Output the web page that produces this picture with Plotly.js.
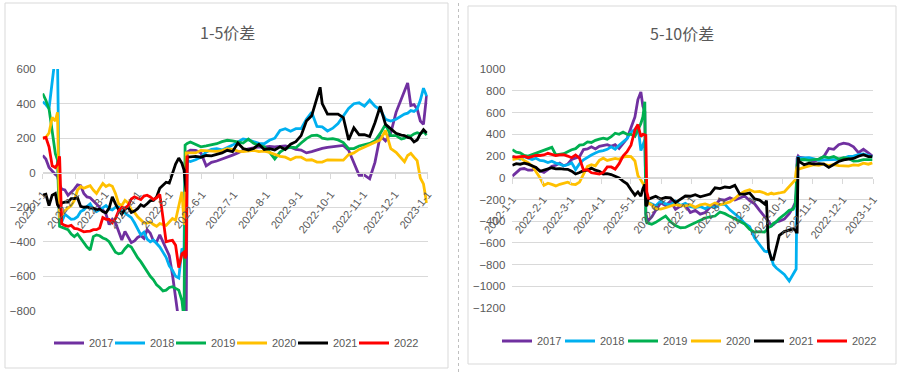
<!DOCTYPE html>
<html><head><meta charset="utf-8">
<script src="https://cdn.plot.ly/plotly-3.0.1.min.js"></script>
<style>html,body{margin:0;padding:0;background:#fff}#chart{width:902px;height:372px}</style>
</head><body><div id="chart"></div>
<script>
const years = ['2017','2018','2019','2020','2021','2022'];
const colors = ['#7030A0','#00B0F0','#00B050','#FFC000','#000000','#FF0000'];
const tickDates = ['2022-01-01','2022-02-01','2022-03-01','2022-04-01','2022-05-01','2022-06-01','2022-07-01','2022-08-01','2022-09-01','2022-10-01','2022-11-01','2022-12-01','2023-01-01'];
const tickLabels = ['2022-1-1','2022-2-1','2022-3-1','2022-4-1','2022-5-1','2022-6-1','2022-7-1','2022-8-1','2022-9-1','2022-10-1','2022-11-1','2022-12-1','2023-1-1'];

// 1-5 spread: day offsets from 2022-01-01
const leftDays = [0,3,6,9,12,14,16,18,21,24, 27,30,33,36,39,42,45,48,51,54, 57,60,63,66,69,72,75,78,81,84, 87,90,93,96,99,102,105,108,111,114, 117,120,123,126,129,132,134,135,136,137, 140,145,150,155,160,165,170,175,180,185, 190,195,200,205,210,215,220,225,230,235, 240,245,250,255,260,263,265,270,275,280, 285,290,295,300,305,310,315,320,325,330, 335,340,343,346,349,352,355,358,361,364];
const left2017 = [100,80,30,8,-10,-20,-70,-95,-100,-130, -115,-95,-70,-75,-120,-140,-145,-165,-180,-200, -215,-240,-300,-270,-290,-340,-390,-340,-370,-405, -395,-375,-365,-380,-330,-350,-395,-400,-360,-400, -440,-480,-590,-740,-860,-900,-900,-900,-900,120, 131,130,115,40,60,68,78,88,102,115, 130,138,142,150,148,152,150,152,155,148, 135,131,115,122,132,138,141,147,152,157, 158,130,55,-15,-14,-35,60,215,185,230, 350,430,470,520,390,395,370,300,280,450];
const left2018 = [411,395,372,560,680,680,-270,-285,-240,-255, -270,-268,-255,-225,-215,-195,-180,-210,-225,-215, -200,-190,-210,-215,-200,-197,-220,-235,-245,-260, -290,-330,-360,-345,-385,-400,-390,-410,-430,-460, -490,-540,-565,-600,-610,-440,-450,60,65,70, 65,75,90,120,135,140,132,145,160,178, 195,190,178,170,168,188,200,245,255,240, 255,255,310,350,268,266,266,242,258,285, 326,372,400,405,385,420,385,365,310,300, 310,330,340,345,360,355,370,420,490,445];
const left2019 = [459,420,370,250,110,75,-310,-315,-322,-330, -355,-370,-355,-380,-410,-430,-448,-370,-360,-365, -378,-385,-400,-430,-460,-470,-465,-440,-420,-430, -465,-492,-515,-545,-575,-600,-620,-650,-665,-685, -680,-665,-660,-672,-680,-740,-850,160,165,170, 178,165,150,155,160,168,180,188,185,178, 172,195,170,158,150,120,80,120,140,148, 145,172,198,215,218,210,200,195,198,190, 175,140,140,155,162,170,185,228,280,215, 215,195,200,215,212,225,232,225,238,218];
const left2020 = [199,205,230,320,300,350,-255,-250,-220,-205, -190,-160,-100,-80,-90,-82,-75,-100,-120,-90, -62,-80,-70,-78,-120,-180,-190,-160,-175,-215, -230,-255,-270,-290,-292,-285,-300,-310,-295,-300, -305,-285,-265,-275,-200,-110,-290,-300,115,115, 112,115,130,128,122,124,128,140,135,125, 122,125,130,122,125,118,105,95,90,75, 90,90,73,75,62,62,62,75,73,73, 73,105,115,135,148,165,178,190,245,140, 118,80,64,100,112,90,70,-30,-65,-175];
const left2021 = [-130,-125,-190,-130,-120,-185,-205,-175,-170,-170, -150,-150,-145,-195,-200,-198,-205,-205,-215,-210, -225,-232,-205,-140,-180,-215,-240,-210,-200,-230, -222,-208,-185,-195,-180,-162,-160,-140,-90,-71, -55,-60,0,50,85,55,15,-40,-110,90, 93,95,90,100,98,108,115,130,122,172, 140,132,140,165,135,140,132,150,135,165, 180,215,300,330,440,495,400,340,340,340, 320,190,260,220,220,210,290,385,280,255, 228,218,215,205,200,178,190,225,250,230];
const left2022 = [200,205,150,40,30,50,95,-295,-305,-310, -305,-322,-325,-335,-342,-340,-338,-330,-330,-320, -260,-270,-270,-290,-265,-220,-200,-205,-190,-152, -140,-148,-155,-135,-130,-140,-155,-145,-125,-260, -400,-395,-392,-420,-550,-470,-460,-495,-480,100];

// 5-10 spread
const rightDays = [0,4,8,12,16,20,24,28,32,36, 40,44,48,52,56,60,64,68,72,76, 80,84,88,92,96,100,104,108,112,116, 120,124,127,130,132,134,135,136,137,138, 141,145,150,155,160,165,170,175,180,185, 190,195,200,205,210,215,220,225,230,235, 240,245,250,255,257,259,262,264,267,270, 275,280,284,286,287,288,289,290,295,300, 305,310,315,320,325,330,335,340,345,350, 355,360,364];
const right2017 = [15,45,80,85,70,70,88,65,50,75, 105,115,135,110,125,168,180,195,260,265, 285,265,290,295,305,290,305,270,310,360, 460,560,720,790,660,610,-330,-380,-400,-390, -360,-300,-230,-255,-215,-290,-260,-250,-320,-300, -335,-320,-270,-255,-200,-205,-185,-205,-185,-168, -210,-240,-300,-350,-380,-400,-440,-430,-405,-400, -380,-330,-270,-230,-150,180,200,190,180,165, 150,170,195,270,262,305,318,310,285,232, 262,230,200];
const right2018 = [198,185,172,195,185,168,180,160,155,140, 153,135,125,110,120,137,76,130,165,190, 210,229,244,250,262,285,262,300,330,360, 420,445,480,250,300,350,-210,-225,-225,-230, -240,-258,-215,-240,-250,-215,-255,-235,-265,-275, -265,-285,-260,-275,-245,-245,-295,-330,-370,-420, -450,-555,-610,-675,-680,-671,-740,-800,-830,-850, -890,-950,-880,-850,-840,100,195,180,183,185, 175,160,165,165,170,170,180,198,200,214, 220,205,192];
const right2019 = [259,235,229,205,200,214,225,238,255,270, 280,210,215,222,240,258,268,300,305,330, 325,345,355,365,355,378,410,400,420,400, 400,382,440,500,560,700,-380,-412,-415,-420, -427,-410,-380,-352,-405,-440,-460,-457,-435,-412, -390,-370,-360,-352,-315,-330,-355,-380,-405,-425, -475,-500,-495,-500,-480,-457,-445,-420,-405,-375, -340,-300,-290,-250,-100,120,168,165,168,160, 168,172,195,183,195,172,185,178,153,155, 168,165,168];
const right2020 = [168,172,183,158,140,110,60,0,-70,-50, -61,-75,-60,-50,-40,-58,-62,-40,40,105, 120,110,160,180,160,168,178,170,190,198, 195,155,20,-20,-50,-80,-150,-200,-225,-235, -250,-285,-288,-276,-260,-246,-255,-258,-248,-272, -250,-240,-255,-232,-248,-238,-222,-190,-150,-125, -110,-130,-125,-140,-150,-152,-140,-150,-148,-140, -130,-80,-50,-20,60,100,85,80,95,110, 120,115,128,113,120,112,110,107,118,115, 135,125,137];
const right2021 = [115,130,125,135,125,112,95,60,70,85, 92,82,85,80,78,61,35,48,65,70, 90,70,60,35,38,30,15,-2,-30,-55, -110,-160,-130,-170,-100,-60,-250,-260,-200,-198, -185,-170,-195,-180,-185,-228,-200,-168,-170,-155, -175,-160,-150,-92,-100,-85,-90,-70,-150,-150, -140,-195,-205,-240,-210,-650,-750,-750,-650,-530, -495,-480,-470,-480,-500,-500,190,150,120,135, 125,130,125,95,125,150,165,172,178,198, 212,195,195];
const right2022 = [195,190,195,198,185,198,205,205,210,225, 214,205,210,212,200,185,210,180,70,75, 46,40,35,50,100,100,80,130,200,240, 300,440,490,380,400,395,390,-130,-160,-200];

const leftSeries = [left2017,left2018,left2019,left2020,left2021,left2022];
const rightSeries = [right2017,right2018,right2019,right2020,right2021,right2022];

function toDate(d){ return new Date(Date.UTC(2022,0,1) + d*86400000).toISOString().slice(0,10); }

const W = 902, H = 372;
const px = v => v / W, py = v => 1 - v / H;
const GRAY = '#595959';
const NUMFONT = '"Liberation Sans", Arial, sans-serif';

const traces = [];
leftSeries.forEach((vals, i) => {
  traces.push({type:'scatter', mode:'lines', name:years[i], x: leftDays.slice(0, vals.length).map(toDate), y: vals,
    xaxis:'x', yaxis:'y', legend:'legend', line:{color:colors[i], width:2.8}, hoverinfo:'skip'});
});
rightSeries.forEach((vals, i) => {
  traces.push({type:'scatter', mode:'lines', name:years[i], x: rightDays.slice(0, vals.length).map(toDate), y: vals,
    xaxis:'x2', yaxis:'y2', legend:'legend2', line:{color:colors[i], width:2.8}, hoverinfo:'skip'});
});
// blank spacer entries (no visible mark) so the last legend label is not clipped
['legend','legend2'].forEach((lg, k) => {
  traces.push({type:'scatter', mode:'lines', name:'\u00a0', x:[tickDates[0]], y:[null], xaxis: k ? 'x2' : 'x', yaxis: k ? 'y2' : 'y',
    legend:lg, showlegend:true, line:{color:'rgba(0,0,0,0)', width:0}, hoverinfo:'skip'});
});

const lyDom = [py(311), py(69)], ryDom = [py(308.3), py(69)];
const xCommon = {type:'date', range:['2022-01-01','2023-01-01'], tickvals: tickDates, ticktext: tickLabels,
  tickangle:-52, tickfont:{family:NUMFONT, size:11, color:GRAY}, showgrid:false, zeroline:false,
  showline:true, linecolor:'#d9d9d9', linewidth:1, ticks:'outside', ticklen:5, tickcolor:'#d9d9d9', anchor:'free',
  automargin:false, ticklabelstandoff:5};
const yCommon = {dtick:200, tick0:0, showgrid:true, gridcolor:'#d9d9d9', gridwidth:1, zeroline:false, showline:false,
  ticks:'', tickfont:{family:NUMFONT, size:11.5, color:GRAY}, ticklabelstandoff:6, automargin:false};

const legCommon = {orientation:'h', xanchor:'left', yanchor:'middle', font:{family:NUMFONT, size:11, color:GRAY},
  entrywidthmode:'pixels', bgcolor:'rgba(0,0,0,0)', traceorder:'normal'};

const layout = {
  width:W, height:H, margin:{l:0,r:0,t:0,b:0, autoexpand:false}, paper_bgcolor:'#fff', plot_bgcolor:'rgba(0,0,0,0)',
  xaxis: Object.assign({}, xCommon, {domain:[px(42.7), px(427.7)], position: lyDom[0] + (800/1400)*(lyDom[1]-lyDom[0])}),
  yaxis: Object.assign({}, yCommon, {domain:lyDom, range:[-801, 601], anchor:'x'}),
  xaxis2: Object.assign({}, xCommon, {domain:[px(512.3), px(873.3)], position: ryDom[0] + (1200/2200)*(ryDom[1]-ryDom[0])}),
  yaxis2: Object.assign({}, yCommon, {domain:ryDom, range:[-1201, 1001], anchor:'x2'}),
  legend: Object.assign({}, legCommon, {x:px(49), y:py(343), entrywidth:16}),
  legend2: Object.assign({}, legCommon, {x:px(497), y:py(341), entrywidth:18}),
  annotations: [
    {text:'1-5价差', x:px(227), y:py(32), xref:'paper', yref:'paper', showarrow:false, xanchor:'center', yanchor:'middle',
      font:{family:'"Noto Sans CJK SC", sans-serif', size:16, color:GRAY}},
    {text:'5-10价差', x:px(682), y:py(33), xref:'paper', yref:'paper', showarrow:false, xanchor:'center', yanchor:'middle',
      font:{family:'"Noto Sans CJK SC", sans-serif', size:16, color:GRAY}}
  ],
  shapes: [
    {type:'rect', xref:'paper', yref:'paper', x0:px(5), x1:px(448), y0:py(368), y1:py(3), line:{color:'#d9d9d9', width:1}},
    {type:'rect', xref:'paper', yref:'paper', x0:px(468), x1:px(896), y0:py(364), y1:py(6), line:{color:'#d9d9d9', width:1}},
    {type:'line', xref:'paper', yref:'paper', x0:px(458.5), x1:px(458.5), y0:0, y1:1, line:{color:'#bfbfbf', width:1, dash:'dot'}}
  ],
  showlegend:true
};

Plotly.newPlot('chart', traces, layout, {staticPlot:true, displayModeBar:false});
</script>
</body></html>
